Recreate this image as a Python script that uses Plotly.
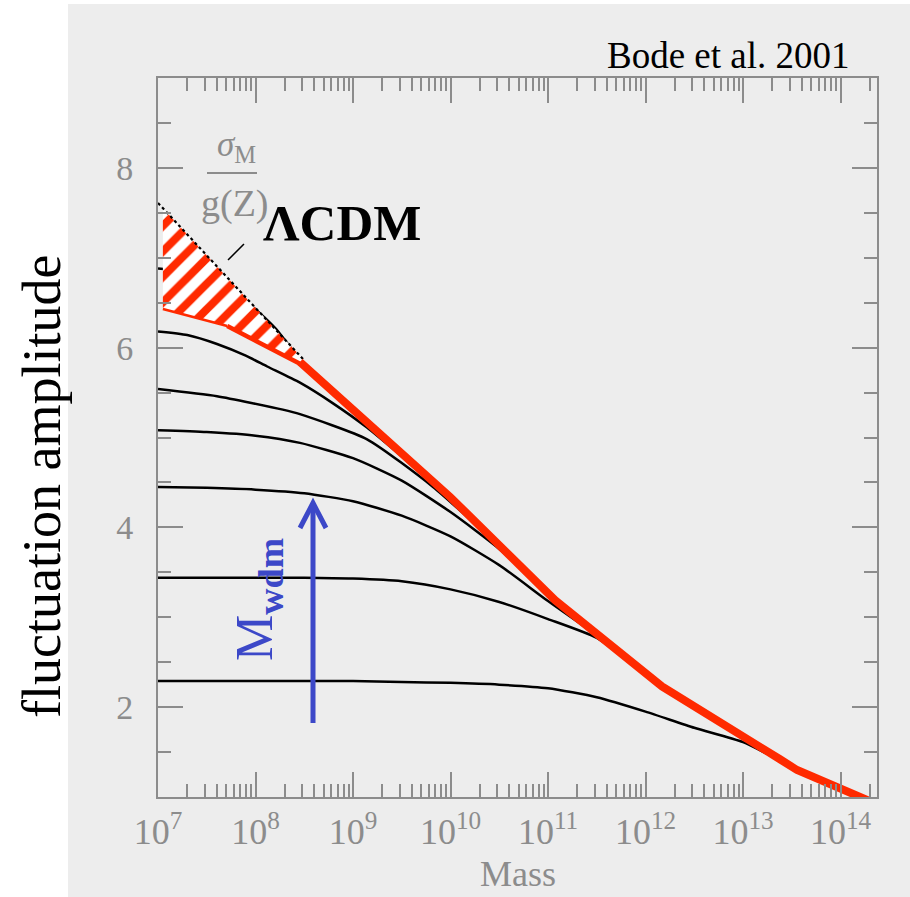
import numpy as np
import plotly.graph_objects as go

# ---------------- data (log10 mass, sigma_M / g(z)) ----------------
LCDM_LOGM = [7.0, 8.49]
LCDM_SIG = [7.61, 5.87]

EDGE_LOGM = [7.05, 7.71]
EDGE_SIG = [6.43, 6.24]
EDGE2_LOGM = [7.71, 8.456]
EDGE2_SIG = [6.24, 5.82]

RED_LOGM = [8.456, 9.995, 11.072, 12.169, 13.379, 13.554, 14.374]
RED_SIG = [5.84, 4.34, 3.19, 2.23, 1.42, 1.30, 0.92]

HATCH_LOGM = [7.05, 8.49, 8.456, 7.71, 7.05]
HATCH_SIG = [7.55, 5.87, 5.80, 6.24, 6.43]

C1_LOGM = [7.0, 7.3, 7.6, 7.9, 8.2, 8.456]
C1_SIG = [6.88, 6.84, 6.73, 6.52, 6.22, 5.86]
C2_LOGM = [7.0, 7.3, 7.605, 7.9, 8.12, 8.456, 8.795, 9.144, 9.5, 10.0]
C2_SIG = [6.18, 6.14, 6.04, 5.91, 5.79, 5.61, 5.38, 5.11, 4.79, 4.33]
C3_LOGM = [7.0, 7.605, 8.28, 8.456, 9.144, 9.821, 10.3]
C3_SIG = [5.54, 5.46, 5.31, 5.26, 4.98, 4.45, 3.99]
C4_LOGM = [7.0, 7.5, 8.0, 8.456, 9.0, 9.5, 10.0, 10.5, 11.1]
C4_SIG = [5.08, 5.06, 5.02, 4.94, 4.77, 4.52, 4.17, 3.76, 3.16]
C5_LOGM = [7.0, 7.5, 8.0, 8.5, 9.0, 9.5, 10.0, 10.5, 11.0, 11.5]
C5_SIG = [4.45, 4.44, 4.42, 4.38, 4.29, 4.13, 3.90, 3.58, 3.18, 2.80]
C6_LOGM = [7.0, 8.0, 8.5, 9.0, 9.5, 10.0, 10.5, 11.0, 11.5, 11.9]
C6_SIG = [3.44, 3.44, 3.44, 3.43, 3.40, 3.31, 3.17, 2.98, 2.77, 2.45]
C7_LOGM = [7.0, 8.0, 9.0, 9.5, 10.0, 10.5, 11.0, 11.5, 12.0, 12.5, 13.0, 13.3, 13.554, 14.374]
C7_SIG = [2.29, 2.29, 2.29, 2.28, 2.27, 2.25, 2.21, 2.11, 1.95, 1.77, 1.61, 1.45, 1.31, 0.94]

X_TICK_EXP = [7, 8, 9, 10, 11, 12, 13, 14]
X_TICK_TEXT = ["10<sup>%d</sup>" % e for e in X_TICK_EXP]
Y_TICKS = [2, 4, 6, 8]
Y_TICK_TEXT = ["2", "4", "6", "8"]

# ---------------- figure ----------------
W, H = 910, 897


def px(x):
    return x / W


def py(y):
    return 1 - y / H


def m(logm):
    return list(10 ** np.array(logm, dtype=float))


GRAY = "#8c8c8c"
RED = "#ff2a00"
BLUE = "#3c48c8"
SERIF = "Liberation Serif"

fig = go.Figure()

for lx, ly in [(C1_LOGM, C1_SIG), (C2_LOGM, C2_SIG), (C3_LOGM, C3_SIG),
               (C4_LOGM, C4_SIG), (C5_LOGM, C5_SIG), (C6_LOGM, C6_SIG),
               (C7_LOGM, C7_SIG)]:
    fig.add_trace(go.Scatter(x=m(lx), y=ly, mode="lines",
                             line=dict(color="black", width=2.5, shape="spline", smoothing=0.6),
                             showlegend=False, hoverinfo="skip"))

fig.add_trace(go.Scatter(x=m(HATCH_LOGM), y=HATCH_SIG, mode="lines", fill="toself",
                         fillcolor="white", line=dict(width=0),
                         fillpattern=dict(shape="/", fgcolor=RED, bgcolor="white",
                                          fgopacity=1, size=18, solidity=0.45),
                         showlegend=False, hoverinfo="skip"))

fig.add_trace(go.Scatter(x=m(LCDM_LOGM), y=LCDM_SIG, mode="lines",
                         line=dict(color="black", width=2.2, dash="dot"),
                         showlegend=False, hoverinfo="skip"))

fig.add_trace(go.Scatter(x=m(EDGE_LOGM), y=EDGE_SIG, mode="lines",
                         line=dict(color=RED, width=2.5),
                         showlegend=False, hoverinfo="skip"))
fig.add_trace(go.Scatter(x=m(EDGE2_LOGM), y=EDGE2_SIG, mode="lines",
                         line=dict(color=RED, width=4.5),
                         showlegend=False, hoverinfo="skip"))
fig.add_trace(go.Scatter(x=m(RED_LOGM), y=RED_SIG, mode="lines",
                         line=dict(color=RED, width=8),
                         showlegend=False, hoverinfo="skip"))

x_minor = [k * 10 ** e for e in range(7, 15) for k in range(2, 10) if k * 10 ** e < 10 ** 14.374]
y_minor = [v / 2 for v in range(3, 18) if v % 4 != 0]


def ann(text, x, y, size, color, angle=0):
    return dict(text=text, x=px(x), y=py(y), xref="paper", yref="paper",
                xanchor="center", yanchor="middle", showarrow=False, textangle=angle,
                font=dict(family=SERIF, size=size, color=color))


fig.update_layout(
    width=W, height=H,
    margin=dict(l=0, r=0, t=0, b=0, autoexpand=False),
    paper_bgcolor="white",
    plot_bgcolor="rgba(0,0,0,0)",
    showlegend=False,
    xaxis=dict(
        domain=[px(158), px(877)], type="log", range=[7, 14.374], automargin=False,
        tickmode="array", tickvals=m(X_TICK_EXP), ticktext=X_TICK_TEXT,
        ticks="inside", ticklen=25, tickwidth=1.5, tickcolor=GRAY,
        showline=True, linecolor=GRAY, linewidth=2, mirror="allticks",
        showgrid=False, zeroline=False,
        tickfont=dict(family=SERIF, size=36, color=GRAY),
        ticklabelstandoff=2,
        minor=dict(tickmode="array", tickvals=x_minor, ticks="inside",
                   ticklen=13, tickwidth=1.5, tickcolor=GRAY, showgrid=False),
    ),
    yaxis=dict(
        domain=[py(797), py(78)], range=[1, 9], automargin=False,
        tickmode="array", tickvals=Y_TICKS, ticktext=Y_TICK_TEXT,
        ticks="inside", ticklen=25, tickwidth=1.5, tickcolor=GRAY,
        showline=True, linecolor=GRAY, linewidth=2, mirror="allticks",
        showgrid=False, zeroline=False,
        tickfont=dict(family=SERIF, size=34, color=GRAY),
        ticklabelstandoff=16,
        minor=dict(tickmode="array", tickvals=y_minor, ticks="inside",
                   ticklen=13, tickwidth=1.5, tickcolor=GRAY, showgrid=False),
    ),
    shapes=[
        dict(type="rect", xref="paper", yref="paper", x0=px(68), x1=1, y0=0, y1=py(4),
             fillcolor="#ededed", line=dict(width=0), layer="below"),
        dict(type="line", xref="paper", yref="paper", x0=px(207), x1=px(257),
             y0=py(173), y1=py(173), line=dict(color=GRAY, width=2)),
        dict(type="line", xref="paper", yref="paper", x0=px(228), x1=px(244),
             y0=py(260), y1=py(244), line=dict(color="black", width=1.5)),
        dict(type="line", xref="paper", yref="paper", x0=px(313), x1=px(313),
             y0=py(723), y1=py(505), line=dict(color=BLUE, width=5)),
        dict(type="path", xref="paper", yref="paper",
             path="M %f,%f L %f,%f L %f,%f" % (px(300), py(528), px(313), py(503), px(326), py(528)),
             line=dict(color=BLUE, width=5)),
    ],
    annotations=[
        ann("Mass", 518, 874, 36, GRAY),
        ann("fluctuation amplitude", 42, 487, 54, "black", angle=-90),
        ann("Bode et al. 2001", 728, 55, 37, "black"),
        ann("<b>ΛCDM</b>", 342, 223, 51, "black"),
        ann("<i>σ</i><sub>M</sub>", 236, 146, 35, GRAY),
        ann("g(Z)", 235, 203, 38, GRAY),
        ann("M<sub><b>wdm</b></sub>", 258, 600, 52, BLUE, angle=-90),
    ],
)

fig.write_html("out.html")
